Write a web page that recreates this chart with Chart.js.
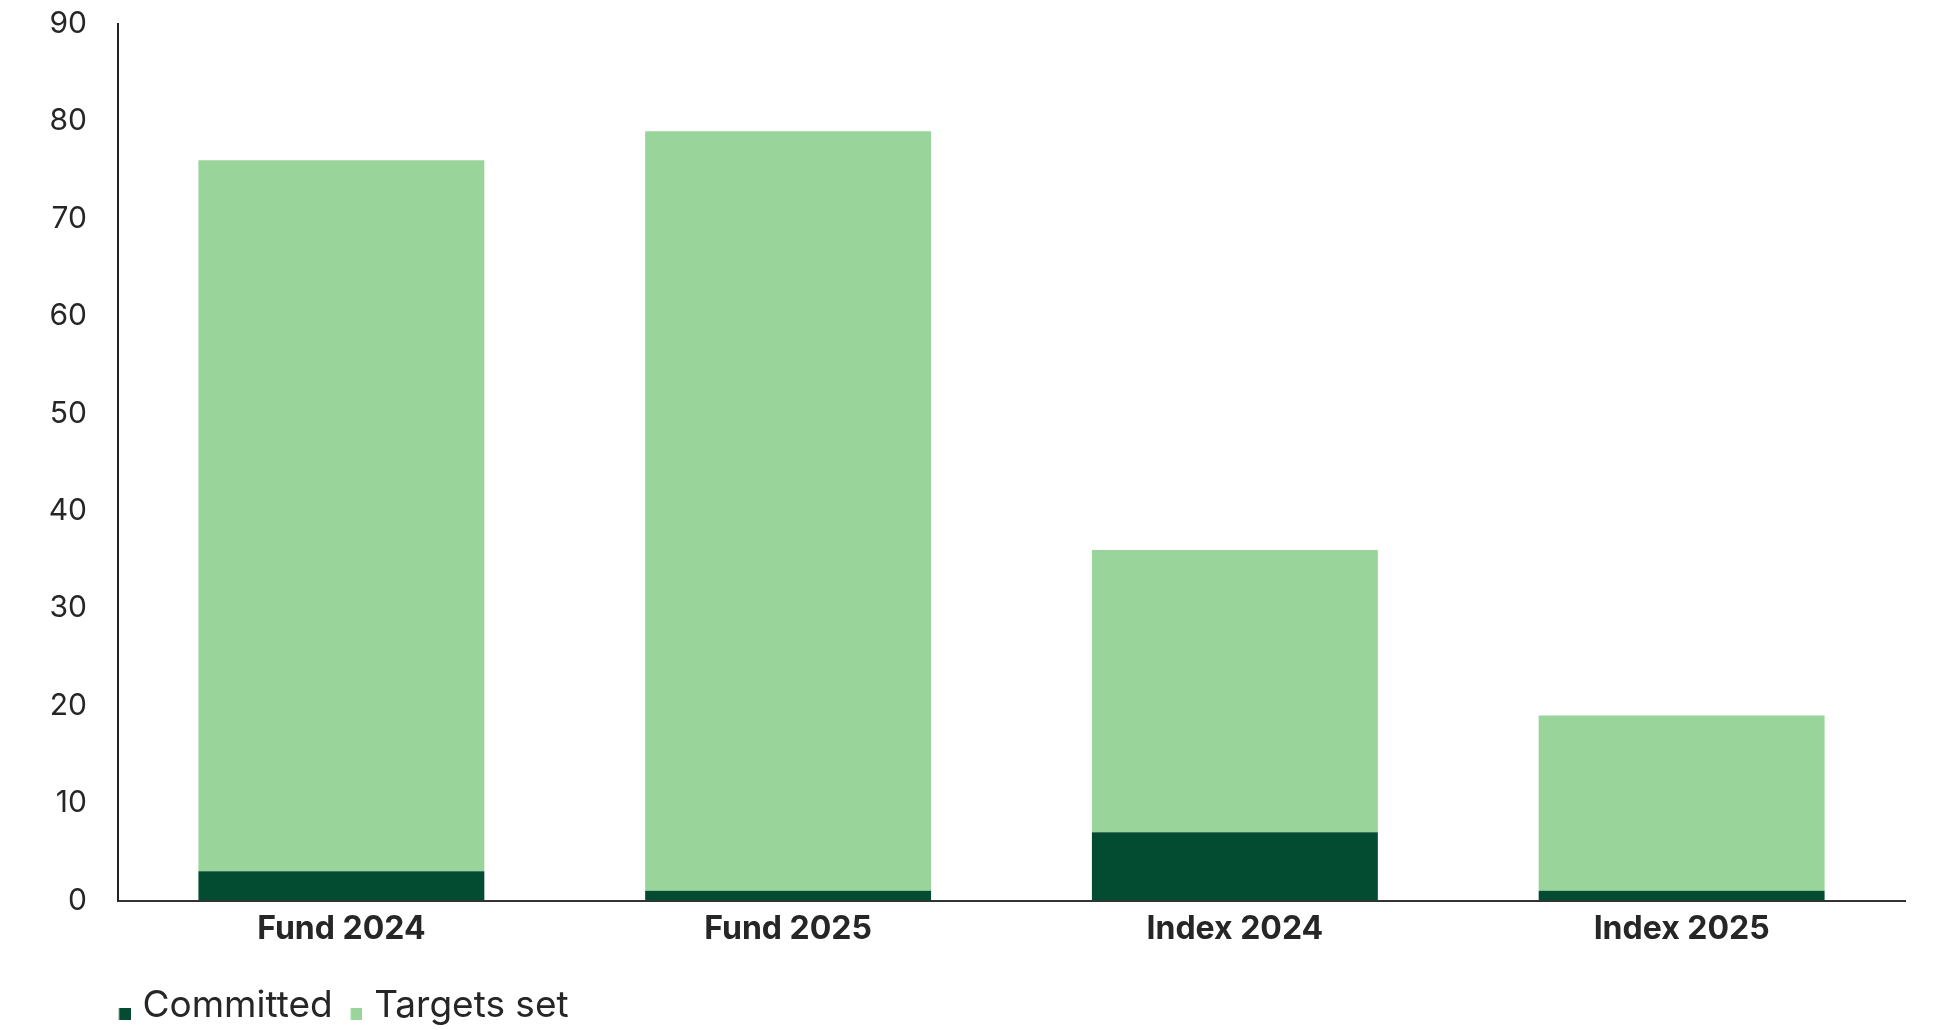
<!DOCTYPE html>
<html>
<head>
<meta charset="utf-8">
<script src="https://cdn.jsdelivr.net/npm/chart.js@4.4.1/dist/chart.umd.min.js"></script>
<style>
  html, body { margin: 0; padding: 0; background: #fff; }
  #wrap { width: 1936px; height: 1030px; position: relative; }
</style>
</head>
<body>
<div id="wrap"><canvas id="chart"></canvas></div>
<script>
const categories = ["Fund 2024", "Fund 2025", "Index 2024", "Index 2025"];
const committed = [3, 1, 7, 1];
const targetsSet = [73, 78, 29, 18];
const seriesNames = ["Committed", "Targets set"];

const darkGreen = "#034c32";
const lightGreen = "#99d49a";
const ink = "#262626";
const font = "Inter, 'Noto Sans', sans-serif";

// legend marker: small square sitting on the text baseline
function marker(color) {
  const c = document.createElement("canvas");
  c.width = 24;
  c.height = 40;
  const g = c.getContext("2d");
  g.fillStyle = color;
  g.fillRect(12.5, 22, 12, 12);
  return c;
}

// put the legend under the y axis line, a bit lower than default
const legendShift = {
  id: "legendShift",
  afterLayout(chart) {
    const lg = chart.legend;
    const h = lg.bottom - lg.top;
    lg.left = chart.chartArea.left - 17;
    lg.top = chart.chartArea.bottom + 75;
    lg.bottom = lg.top + h;
  },
};

new Chart(document.getElementById("chart"), {
  type: "bar",
  data: {
    labels: categories,
    datasets: [
      {
        label: seriesNames[0],
        data: committed,
        backgroundColor: darkGreen,
        pointStyle: marker(darkGreen),
      },
      {
        label: seriesNames[1],
        data: targetsSet,
        backgroundColor: lightGreen,
        pointStyle: marker(lightGreen),
      },
    ],
  },
  options: {
    responsive: true,
    maintainAspectRatio: false,
    animation: false,
    datasets: { bar: { categoryPercentage: 0.64, barPercentage: 1 } },
    layout: { padding: { top: 24, right: 31, bottom: 0.5, left: 0 } },
    plugins: {
      tooltip: { enabled: false },
      legend: {
        position: "bottom",
        align: "start",
        labels: {
          usePointStyle: true,
          pointStyleWidth: 11,
          padding: 12,
          color: ink,
          font: { family: font, size: 37 },
        },
      },
    },
    scales: {
      x: {
        stacked: true,
        afterFit(s) { s.height = 70; },
        grid: { display: false, drawTicks: false },
        border: { display: true, color: "#333", width: 2 },
        ticks: {
          color: ink,
          padding: 10,
          font: { family: font, size: 32, weight: "bold" },
        },
      },
      y: {
        stacked: true,
        min: 0,
        max: 90,
        afterFit(s) {
          s.width = 118;
          s.paddingTop = 0;
          s.paddingBottom = 0;
        },
        grid: { display: false, drawTicks: false },
        border: { display: true, color: "#222", width: 2 },
        ticks: {
          stepSize: 10,
          color: ink,
          padding: 31,
          font: { family: font, size: 30 },
        },
      },
    },
  },
  plugins: [legendShift],
});
</script>
</body>
</html>
